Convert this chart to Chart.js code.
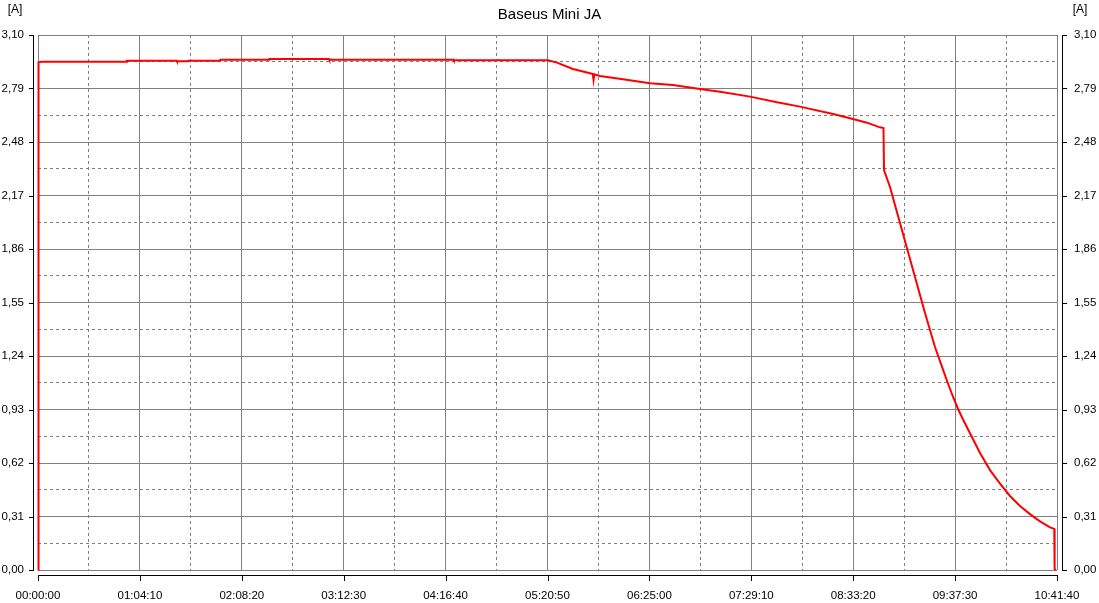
<!DOCTYPE html>
<html>
<head>
<meta charset="utf-8">
<script src="https://cdn.jsdelivr.net/npm/chart.js@4/dist/chart.umd.min.js"></script>
<style>
    body { margin: 0; background: #ffffff; }
    #wrap { width: 1099px; height: 603px; }
</style>
</head>
<body>
<div id="wrap"><canvas id="chart" width="1099" height="603"></canvas></div>
<script>
// 时间轴 (秒) 与电流 (A)
const timeSec = [0, 20, 140, 3350, 3360, 5240, 5250, 5667, 5680, 6876, 6890, 8728, 8740, 10995, 11010,
    15700, 15710, 19270, 19610, 20210, 20860, 20960, 20990, 21020, 21230, 22100, 23120, 23990, 25010,
    25770, 26900, 27920, 28790, 30040, 30790, 31320, 31810, 31945, 31964, 32190, 33513, 33890, 34117,
    34332, 34570, 34761, 34950, 35214, 35591, 35969, 36347, 36724, 37102, 37480, 37858, 38236, 38398,
    38410, 38462];
const currentA = [0, 2.942, 2.945, 2.945, 2.951, 2.951, 2.948, 2.948, 2.951, 2.951, 2.957, 2.957, 2.961, 2.961, 2.956,
    2.956, 2.953, 2.953, 2.940, 2.903, 2.878, 2.874, 2.839, 2.872, 2.862, 2.843, 2.820, 2.810, 2.787,
    2.771, 2.743, 2.710, 2.685, 2.642, 2.613, 2.592, 2.565, 2.561, 2.318, 2.219, 1.489, 1.292, 1.194,
    1.101, 1.004, 0.933, 0.872, 0.792, 0.678, 0.579, 0.501, 0.429, 0.371, 0.324, 0.282, 0.247, 0.238,
    0.006, 0];

// 坐标轴范围
const timeMax = 38500;
const timeStep = 3850;
const ampMax = 3.10;
const ampStep = 0.31;

const chartTitle = 'Baseus Mini JA';
const unitLabel = '[A]';

const gridColor = '#808080';
const labelFont = { family: "'Liberation Sans', Arial", size: 11.5 };

// 秒 -> HH:MM:SS
function formatTime(sec) {
    const h = Math.floor(sec / 3600);
    const m = Math.floor((sec % 3600) / 60);
    const s = Math.round(sec % 60);
    return [h, m, s].map(v => String(v).padStart(2, '0')).join(':');
}

function formatAmp(v) {
    return v.toFixed(2).replace('.', ',');
}

// 外侧黑色坐标轴线和刻度
const axisLinePlugin = {
    id: 'axisLines',
    afterDraw(chart) {
        const ctx = chart.ctx;
        const area = chart.chartArea;
        const xs = chart.scales.x;
        const ys = chart.scales.y;
        const leftX = Math.round(area.left) - 4.5;
        const rightX = Math.round(area.right) + 5.5;
        const bottomY = Math.round(area.bottom) + 5.5;
        ctx.save();
        ctx.strokeStyle = '#000000';
        ctx.lineWidth = 1;
        ctx.beginPath();
        // 左轴
        ctx.moveTo(leftX, Math.round(area.top));
        ctx.lineTo(leftX, Math.round(area.bottom) + 1);
        // 右轴
        ctx.moveTo(rightX, Math.round(area.top));
        ctx.lineTo(rightX, Math.round(area.bottom) + 1);
        // 底轴
        ctx.moveTo(Math.round(area.left), bottomY);
        ctx.lineTo(Math.round(area.right) + 1, bottomY);
        for (let v = 0; v <= ampMax + 1e-6; v += ampStep) {
            const y = Math.round(ys.getPixelForValue(v)) + 0.5;
            ctx.moveTo(leftX - 4.5, y); ctx.lineTo(leftX + 0.5, y);
            ctx.moveTo(rightX - 0.5, y); ctx.lineTo(rightX + 4.5, y);
        }
        for (let t = 0; t <= timeMax; t += timeStep) {
            const x = Math.round(xs.getPixelForValue(t)) + 0.5;
            ctx.moveTo(x, bottomY - 0.5); ctx.lineTo(x, bottomY + 5.5);
        }
        ctx.stroke();
        // 单位
        ctx.fillStyle = '#000000';
        ctx.font = "12px 'Liberation Sans', Arial";
        ctx.textAlign = 'center';
        ctx.textBaseline = 'middle';
        ctx.fillText(unitLabel, 15, 10);
        ctx.fillText(unitLabel, 1080, 10);
        ctx.restore();
    }
};

const ctx = document.getElementById('chart').getContext('2d');
new Chart(ctx, {
    type: 'line',
    data: {
        datasets: [{
            data: timeSec.map((t, i) => ({ x: t, y: currentA[i] })),
            borderColor: '#ff0000',
            borderWidth: 2,
            pointRadius: 0,
            tension: 0,
            fill: false,
            clip: 4,
            xAxisID: 'x',
            yAxisID: 'y'
        }]
    },
    options: {
        responsive: false,
        animation: false,
        layout: { padding: 0 },
        plugins: {
            legend: { display: false },
            tooltip: { enabled: false },
            title: {
                display: true,
                text: chartTitle,
                color: '#000000',
                font: { family: "'Liberation Sans', Arial", size: 15, weight: 'normal', lineHeight: 1.2 },
                padding: { top: 6, bottom: 11 }
            }
        },
        scales: {
            x: {
                type: 'linear',
                position: 'bottom',
                min: 0,
                max: timeMax,
                afterFit(s) {
                    s.height = 33;
                    // 标签不挤占绘图区
                    s.paddingLeft = 0;
                    s.paddingRight = 0;
                },
                ticks: {
                    stepSize: timeStep,
                    autoSkip: false,
                    maxRotation: 0,
                    padding: 19,
                    color: '#000000',
                    font: labelFont,
                    callback: v => formatTime(v)
                },
                grid: { color: gridColor, lineWidth: 1, drawTicks: false },
                border: { display: false }
            },
            xMinor: {
                type: 'linear',
                position: 'top',
                min: 0,
                max: timeMax,
                afterFit(s) { s.height = 0; },
                ticks: { display: false, stepSize: timeStep / 2 },
                grid: { color: gridColor, lineWidth: 1, drawTicks: false },
                border: { display: false, dash: [3, 3] }
            },
            y: {
                type: 'linear',
                position: 'left',
                min: 0,
                max: ampMax,
                afterFit(s) { s.width = 38; },
                ticks: {
                    stepSize: ampStep,
                    padding: 14,
                    color: '#000000',
                    font: labelFont,
                    callback: v => formatAmp(v)
                },
                grid: { color: gridColor, lineWidth: 1, drawTicks: false },
                border: { display: false }
            },
            yRight: {
                type: 'linear',
                position: 'right',
                min: 0,
                max: ampMax,
                afterFit(s) { s.width = 42; },
                ticks: {
                    stepSize: ampStep / 2,
                    padding: 17,
                    color: '#000000',
                    font: labelFont,
                    callback: v => (Math.round(v / (ampStep / 2)) % 2 === 0 ? formatAmp(v) : '')
                },
                grid: { color: gridColor, lineWidth: 1, drawTicks: false },
                border: { display: false, dash: [3, 3] }
            }
        }
    },
    plugins: [axisLinePlugin]
});
</script>
</body>
</html>
